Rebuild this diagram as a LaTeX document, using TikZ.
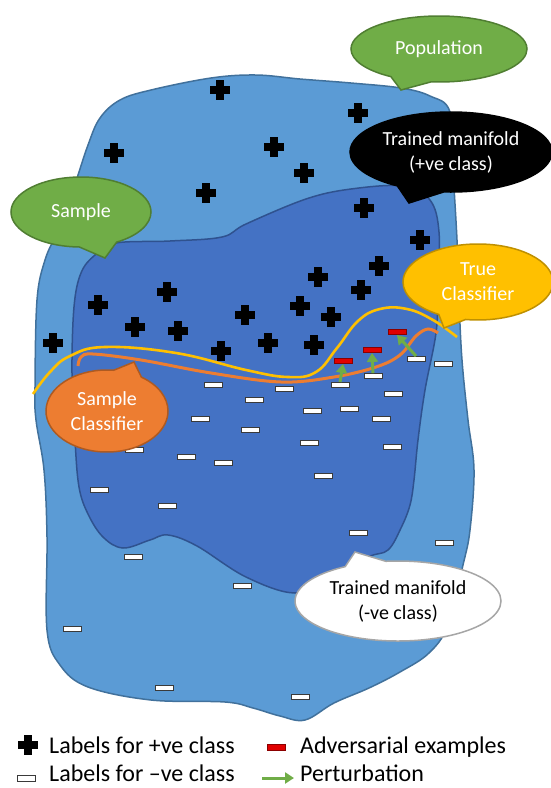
\documentclass[tikz,border=0pt]{standalone}
\usepackage{fontspec}
\setmainfont{Carlito}
\usetikzlibrary{shapes.callouts,arrows.meta}

\definecolor{popfill}{HTML}{5B9BD5}
\definecolor{popline}{HTML}{41719C}
\definecolor{manfill}{HTML}{4472C4}
\definecolor{manline}{HTML}{2F528F}
\definecolor{grfill}{HTML}{70AD47}
\definecolor{grline}{HTML}{507E32}
\definecolor{orfill}{HTML}{ED7D31}
\definecolor{orline}{HTML}{AE5A21}
\definecolor{yefill}{HTML}{FFC000}
\definecolor{yeline}{HTML}{BF9000}
\definecolor{advred}{HTML}{E00000}
\definecolor{advline}{HTML}{8B0000}
\definecolor{negline}{HTML}{3A3A3A}

\tikzset{
  plusmark/.pic={
    \fill[black] (-10,-3.8) rectangle (10,3.8);
    \fill[black] (-3.8,-10) rectangle (3.8,10);
  },
  negmark/.style={draw=negline, fill=white, line width=0.9pt,
    minimum width=18pt, minimum height=5pt, inner sep=0pt},
  advmark/.style={draw=advline, fill=advred, line width=0.9pt,
    minimum width=18pt, minimum height=5pt, inner sep=0pt},
  pert/.style={draw=grfill, line width=3pt,
    -{Triangle[width=11pt,length=9pt]}},
  bubble/.style={ellipse callout, inner sep=0pt, line width=1.5pt,
    align=center, font=\fontsize{20}{25}\selectfont, text=white},
  legendtext/.style={anchor=base west, inner sep=0pt,
    font=\fontsize{24}{28}\selectfont},
}

\begin{document}
\begin{tikzpicture}[x=1pt,y=-1pt]
\useasboundingbox (0,0) rectangle (551,788);

% population region
\draw[fill=popfill, draw=popline, line width=1.5pt]
  plot[smooth cycle, tension=0.6] coordinates {
  (100,118) (120,100) (151,90) (211,78) (256,75) (300,79) (351,83)
  (401,88) (430,96) (450,112) (453,170) (457,240) (459,300) (462,360)
  (468,420) (474,470) (470,530) (463,565) (448,625) (429,653) (400,672)
  (369,688) (334,703) (305,720) (280,716) (253,708) (225,702) (151,700)
  (88,687) (60,665) (47,630) (47,537) (44,470) (36,420) (35,387)
  (37,300) (45,260) (58,230) (74,187) (88,145)};

% sampled region
\draw[fill=manfill, draw=manline, line width=1.5pt]
  plot[smooth cycle, tension=0.6] coordinates {
  (116,243) (170,241) (222,237) (246,224) (306,199) (351,189) (404,186)
  (430,200) (439,232) (438,290) (436,333) (425,390) (418,440) (414,480)
  (410,505) (401,528) (388,550) (368,557) (330,578) (295,593) (246,577)
  (197,546) (168,535) (150,540) (123,548) (103,537) (88,514) (79,487)
  (75,440) (72,373) (74,307) (81,273) (95,255)};

% positive samples
\foreach \x/\y in {220/90, 358/113, 114/153, 274/147, 304/173, 206/193,
  364/208, 420/240, 379/266, 318/277, 167/292, 361/290, 98/305, 300/306,
  245/315, 331/317, 135/327, 178/331, 53/343, 268/343, 314/345, 221/351}
  \pic at (\x,\y) {plusmark};

% negative samples
\foreach \x/\y [count=\i] in {213/385, 284/389, 254/400, 443/364, 393/394,
  349/409, 312/411, 200/419, 250/430, 381/419, 309/443, 392/447, 134/450,
  186/457, 223/463, 323/476, 99/490, 167/506, 358/533, 444/543, 133/557,
  242/586, 72/629, 164/688, 300/697}
  \node[negmark] (neg\i) at (\x,\y) {};
\node[negmark] (srcA) at (340,385) {};
\node[negmark] (srcB) at (373,376) {};
\node[negmark] (srcC) at (416,359) {};

% decision boundaries
\draw[yefill, line width=2.6pt]
  plot[smooth, tension=0.7] coordinates {
  (33,394) (50,372) (70,356) (105,347) (176,353) (246,370) (288,377)
  (316,372) (337,348) (358,321) (380,309) (407,309) (433,320) (457,337)};
\draw[orfill, line width=3pt]
  plot[smooth, tension=0.6] coordinates {
  (78,366) (81,357) (93,354) (141,360) (211,373) (281,382) (334,377)
  (376,367) (400,355) (416,336) (428,329) (438,333)};

% adversarial examples and perturbations
\node[advmark] (advA) at (343,361) {};
\node[advmark] (advB) at (372,350) {};
\node[advmark] (advC) at (397,332) {};
\draw[pert] (srcA.north) -- (advA.south);
\draw[pert] (srcB.north) -- (advB.south);
\draw[pert] (srcC.north) -- (advC.south);

% callouts
\node[bubble, fill=grfill, draw=grline, minimum width=176pt,
  minimum height=66pt, callout pointer arc=28,
  callout absolute pointer={(401,90)}] (pop) at (439,49) {Population};
\node[bubble, fill=black, draw=black, minimum width=202pt,
  minimum height=80pt, callout pointer arc=28,
  callout absolute pointer={(409,203)}] (posman) at (451,152)
  {Trained manifold\\(+ve class)};
\node[bubble, fill=grfill, draw=grline, minimum width=140pt,
  minimum height=70pt, callout pointer arc=32,
  callout absolute pointer={(105,258)}] (smp) at (81,212) {Sample};
\node[bubble, fill=yefill, draw=yeline, minimum width=150pt,
  minimum height=76pt, callout pointer arc=22,
  callout absolute pointer={(444,328)}] (truecl) at (478,282)
  {True\\Classifier};
\node[bubble, fill=orfill, draw=orline, minimum width=122pt,
  minimum height=82pt, callout pointer arc=28,
  callout absolute pointer={(134,362)}] (smpcl) at (107,411)
  {Sample\\Classifier};
\node[bubble, fill=white, draw=black!35, text=black, minimum width=206pt,
  minimum height=80pt, callout pointer arc=24,
  callout absolute pointer={(355,552)}] (negman) at (398,601)
  {Trained manifold\\(-ve class)};

% legend
\pic at (28,745) {plusmark};
\node[legendtext] (lgpos) at (49,753) {Labels for +ve class};
\node[negmark, minimum height=6pt] (lgnegm) at (26,778) {};
\node[legendtext] (lgneg) at (49,781) {Labels for –ve class};
\node[advmark, minimum height=6pt] (lgadvm) at (276,747) {};
\node[legendtext] (lgadv) at (300,753) {Adversarial examples};
\coordinate (lgpa) at (262,778);
\coordinate (lgpb) at (294,778);
\draw[pert] (lgpa) -- (lgpb);
\node[legendtext] (lgpert) at (300,781) {Perturbation};
\end{tikzpicture}
\end{document}
